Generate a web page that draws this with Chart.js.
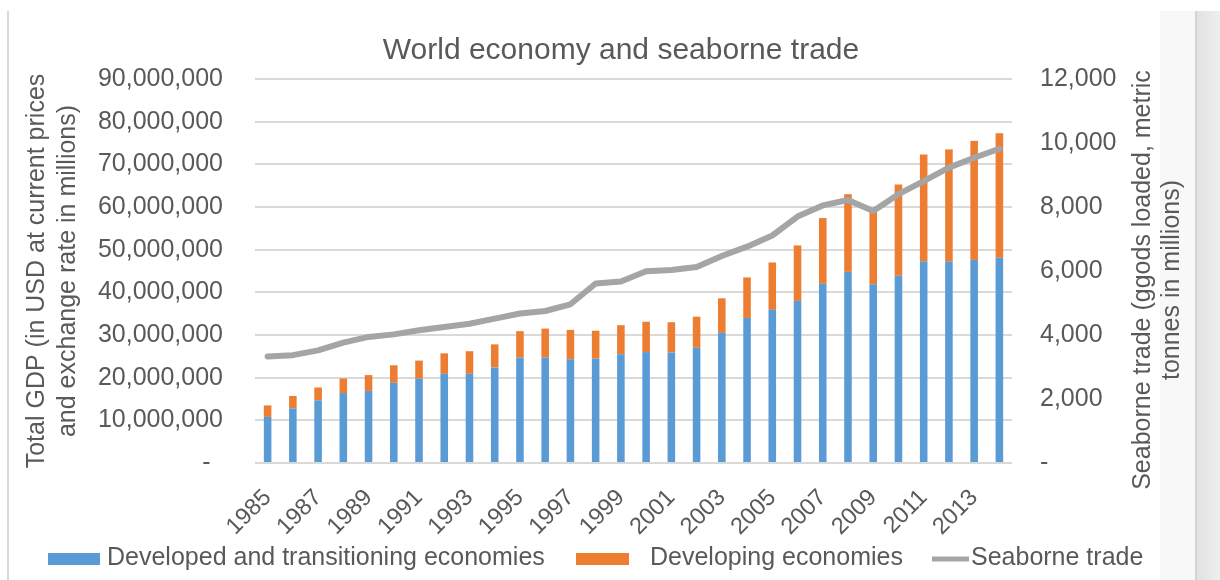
<!DOCTYPE html>
<html>
<head>
<meta charset="utf-8">
<title>World economy and seaborne trade</title>
<script src="https://cdn.jsdelivr.net/npm/chart.js@4.4.1/dist/chart.umd.min.js"></script>
<style>
  html, body { margin: 0; padding: 0; background: #ffffff; }
  #wrap { position: relative; width: 1220px; height: 580px; overflow: hidden; }
  .edge-left { position: absolute; left: 7px; top: 11px; width: 2px; height: 569px; background: #d9d9d9; }
  .shade { position: absolute; left: 1160px; top: 11px; width: 35px; height: 569px; background: #f8f8f8; }
  .sep { position: absolute; left: 1195px; top: 11px; width: 2px; height: 569px; background: #d4d4d4; }
  .rail { position: absolute; left: 1197px; top: 11px; width: 23px; height: 569px;
          background: linear-gradient(to right, #e2e2e2, #eeeeee); }
  canvas { position: absolute; left: 0; top: 0; }
</style>
</head>
<body>
<div id="wrap">
  <div class="edge-left"></div>
  <div class="shade"></div>
  <div class="sep"></div>
  <div class="rail"></div>
  <canvas id="chart" width="1220" height="580"></canvas>
</div>
<script>
// Years on the category axis
const years = [
  '1985','1986','1987','1988','1989','1990','1991','1992','1993','1994',
  '1995','1996','1997','1998','1999','2000','2001','2002','2003','2004',
  '2005','2006','2007','2008','2009','2010','2011','2012','2013','2014'
];

// Total GDP, USD millions at current prices
const developedGdp = [
  10800000, 12800000, 14700000, 16400000, 16900000, 18800000, 19800000, 20900000, 20900000, 22400000,
  24700000, 24700000, 24300000, 24500000, 25500000, 26000000, 25900000, 27000000, 30500000, 34000000,
  35900000, 38000000, 42000000, 44800000, 41900000, 43900000, 47300000, 47200000, 47600000, 48100000
];
const developingGdp = [
  2700000, 2900000, 3000000, 3400000, 3700000, 4100000, 4200000, 4800000, 5300000, 5400000,
  6200000, 6800000, 6900000, 6500000, 6800000, 7100000, 7100000, 7300000, 8100000, 9500000,
  11100000, 13000000, 15400000, 18200000, 17200000, 21400000, 25000000, 26300000, 27900000, 29200000
];

// Seaborne trade, goods loaded, million metric tonnes
const seaborneTrade = [
  3330, 3370, 3520, 3760, 3940, 4020, 4150, 4250, 4350, 4510,
  4670, 4750, 4960, 5610, 5670, 5990, 6030, 6125, 6470, 6760,
  7110, 7700, 8050, 8220, 7875, 8400, 8810, 9230, 9540, 9820
];

// Text
const chartTitle = 'World economy and seaborne trade';
const seriesNames = ['Developed and transitioning economies', 'Developing economies', 'Seaborne trade'];
const leftAxisTitle = ['Total GDP (in USD at current prices', 'and exchange rate in millions)'];
const rightAxisTitle = ['Seaborne trade (ggods loaded, metric', 'tonnes in millions)'];

// Styling
const FONT = '"Liberation Sans", Arial, Helvetica, sans-serif';
const TEXT = '#595959';
const BLUE = '#5b9bd5';
const ORANGE = '#ed7d31';
const GREY = '#a5a5a5';
const GRID = '#d9d9d9';

const nf = new Intl.NumberFormat('en-US');

// Right-hand axis title, read bottom-to-top
const rightTitlePlugin = {
  id: 'rightTitle',
  afterDraw(chart) {
    const { ctx, chartArea } = chart;
    const x0 = chart.scales.y1.left + 131;
    const cy = (chartArea.top + chartArea.bottom) / 2 + 9;
    ctx.save();
    ctx.font = '25px ' + FONT;
    ctx.fillStyle = TEXT;
    ctx.textAlign = 'center';
    ctx.textBaseline = 'middle';
    ctx.translate(x0, cy);
    ctx.rotate(-Math.PI / 2);
    rightAxisTitle.forEach((line, i) => ctx.fillText(line, 0, i * 29));
    ctx.restore();
  }
};

// Legend row along the bottom edge
const legendPlugin = {
  id: 'bottomLegend',
  afterDraw(chart) {
    const { ctx } = chart;
    const ds = chart.data.datasets;
    const cy = 559;
    const slots = [
      { key: 0, mark: 48, markW: 52, text: 107 },
      { key: 1, mark: 576, markW: 53, text: 650 },
      { key: 2, mark: 932, markW: 37, text: 971 }
    ];
    ctx.save();
    ctx.font = '25px ' + FONT;
    ctx.textBaseline = 'middle';
    ctx.textAlign = 'left';
    slots.forEach(s => {
      const d = ds[s.key];
      if (d.type === 'line') {
        ctx.strokeStyle = d.borderColor;
        ctx.lineWidth = 5;
        ctx.beginPath();
        ctx.moveTo(s.mark, cy);
        ctx.lineTo(s.mark + s.markW, cy);
        ctx.stroke();
      } else {
        ctx.fillStyle = d.backgroundColor;
        ctx.fillRect(s.mark, cy - 6, s.markW, 12);
      }
      ctx.fillStyle = TEXT;
      ctx.fillText(d.label, s.text, cy - 1);
    });
    ctx.restore();
  }
};

new Chart(document.getElementById('chart'), {
  data: {
    labels: years,
    datasets: [
      {
        type: 'bar',
        label: seriesNames[0],
        data: developedGdp,
        backgroundColor: BLUE,
        borderWidth: 0,
        yAxisID: 'y',
        stack: 'gdp',
        order: 1,
        barPercentage: 0.3,
        categoryPercentage: 1
      },
      {
        type: 'bar',
        label: seriesNames[1],
        data: developingGdp,
        backgroundColor: ORANGE,
        borderWidth: 0,
        yAxisID: 'y',
        stack: 'gdp',
        order: 1,
        barPercentage: 0.3,
        categoryPercentage: 1
      },
      {
        type: 'line',
        label: seriesNames[2],
        data: seaborneTrade,
        borderColor: GREY,
        backgroundColor: GREY,
        borderWidth: 6,
        borderJoinStyle: 'round',
        borderCapStyle: 'round',
        pointRadius: 0,
        tension: 0,
        yAxisID: 'y1',
        stack: 'trade',
        order: 0
      }
    ]
  },
  options: {
    responsive: false,
    animation: false,
    devicePixelRatio: 1,
    layout: { padding: { left: 22, right: 0, top: 0, bottom: 0 } },
    plugins: {
      legend: { display: false },
      tooltip: { enabled: false },
      title: {
        display: true,
        text: chartTitle,
        color: TEXT,
        font: { family: FONT, size: 30, weight: 'normal', lineHeight: 1.2 },
        padding: { top: 33, bottom: 10 }
      }
    },
    scales: {
      x: {
        stacked: true,
        grid: { display: false, drawTicks: false },
        border: { display: false },
        ticks: {
          autoSkip: false,
          minRotation: 45,
          maxRotation: 45,
          padding: 21,
          color: TEXT,
          font: { family: FONT, size: 23.5 },
          callback: (v, i) => (i % 2 === 0 ? years[i] : '')
        },
        afterFit: s => { s.height = 117; }
      },
      y: {
        stacked: true,
        position: 'left',
        min: 0,
        max: 90000000,
        grid: { color: GRID, lineWidth: 2, drawTicks: false },
        border: { display: false },
        ticks: {
          stepSize: 10000000,
          padding: 32,
          color: TEXT,
          font: { family: FONT, size: 25 },
          callback: v => (v === 0 ? '-\u2002' : nf.format(v))
        },
        title: {
          display: true,
          text: leftAxisTitle,
          color: TEXT,
          font: { family: FONT, size: 25, lineHeight: 1.24 },
          padding: { top: 0, bottom: 0 }
        },
        afterFit: s => { s.width = 233; }
      },
      y1: {
        position: 'right',
        min: 0,
        max: 12000,
        grid: { display: false, drawTicks: false, drawOnChartArea: false },
        border: { display: false },
        ticks: {
          stepSize: 2000,
          padding: 28,
          color: TEXT,
          font: { family: FONT, size: 25 },
          callback: v => (v === 0 ? '-' : nf.format(v))
        },
        afterFit: s => { s.width = 208; }
      }
    }
  },
  plugins: [rightTitlePlugin, legendPlugin]
});
</script>
</body>
</html>
